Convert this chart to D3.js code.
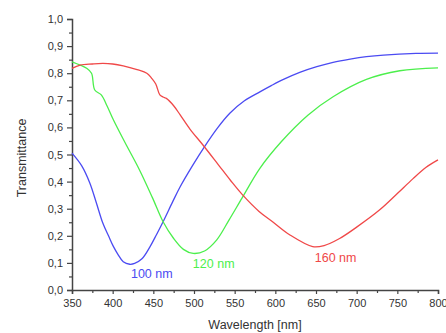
<!DOCTYPE html>
<html>
<head>
<meta charset="utf-8">
<script src="https://cdn.jsdelivr.net/npm/d3@7"></script>
<style>
  body { margin: 0; background: #fff; }
  svg { display: block; font-family: "Liberation Sans", Arial, sans-serif; }
</style>
</head>
<body>
<svg id="chart" width="446" height="333"></svg>
<script>
// 100 nm film
var wl100 = [350, 362, 372, 380, 388, 395, 401, 407, 413, 421, 427, 436, 446, 454, 462, 474, 483, 498, 513, 529, 544, 562, 581, 595, 610, 630, 651, 671, 692, 712, 733, 773, 800];
var t100 = [0.505, 0.458, 0.394, 0.321, 0.246, 0.199, 0.16, 0.129, 0.104, 0.095, 0.098, 0.115, 0.16, 0.205, 0.252, 0.327, 0.381, 0.458, 0.529, 0.598, 0.652, 0.698, 0.731, 0.754, 0.777, 0.803, 0.824, 0.84, 0.852, 0.861, 0.867, 0.873, 0.874];
// 120 nm film
var wl120 = [350, 360, 368, 374, 378, 386, 393, 401, 415, 433, 449, 462, 475, 487, 499, 513, 528, 543, 559, 581, 607, 640, 671, 712, 753, 800];
var t120 = [0.842, 0.830, 0.818, 0.80, 0.738, 0.72, 0.68, 0.627, 0.545, 0.443, 0.34, 0.252, 0.19, 0.15, 0.135, 0.144, 0.185, 0.258, 0.339, 0.449, 0.546, 0.645, 0.713, 0.777, 0.809, 0.82];
// 160 nm film
var wl160 = [350, 360, 375, 388, 400, 413, 430, 442, 448, 453, 458, 462, 466, 475, 483, 495, 511, 530, 545, 560, 580, 597, 618, 646, 660, 679, 700, 728, 750, 769, 785, 800];
var t160 = [0.818, 0.830, 0.834, 0.836, 0.834, 0.827, 0.813, 0.80, 0.781, 0.76, 0.72, 0.712, 0.707, 0.68, 0.646, 0.594, 0.535, 0.462, 0.404, 0.35, 0.29, 0.251, 0.203, 0.16, 0.164, 0.19, 0.232, 0.295, 0.356, 0.41, 0.452, 0.48];

var seriesNames = ["100 nm", "120 nm", "160 nm"];
var seriesColors = ["#4b4bf2", "#4cef4c", "#f04848"];
// label anchor points (wavelength, transmittance)
var labelWl = [422.5, 498.6, 648.5];
var labelT = [0.044, 0.081, 0.103];

var xTicks = [350, 400, 450, 500, 550, 600, 650, 700, 750, 800];
var yTicks = [0, 0.1, 0.2, 0.3, 0.4, 0.5, 0.6, 0.7, 0.8, 0.9, 1.0];

var svg = d3.select("#chart");
var mLeft = 72, mRight = 438, mTop = 19, mBottom = 290;

var x = d3.scaleLinear().domain([350, 800]).range([mLeft, mRight]);
var y = d3.scaleLinear().domain([0, 1]).range([mBottom, mTop]);

var axisColor = "#444";
var textColor = "#333";

function commaFmt(d) { return d3.format(".1f")(d).replace(".", ","); }

// minor ticks
var yMinor = d3.range(0.05, 1, 0.1);
var xMinor = d3.range(375, 800, 50);

svg.append("g").attr("transform", "translate(" + mLeft + ",0)")
    .call(d3.axisLeft(y).tickValues(yMinor).tickFormat("").tickSize(3))
    .select(".domain").remove();
svg.append("g").attr("transform", "translate(0," + mBottom + ")")
    .call(d3.axisBottom(x).tickValues(xMinor).tickFormat("").tickSize(3))
    .select(".domain").remove();

svg.append("g").attr("transform", "translate(" + mLeft + ",0)")
    .call(d3.axisLeft(y).tickValues(yTicks).tickFormat(commaFmt).tickSize(5).tickPadding(4));
svg.append("g").attr("transform", "translate(0," + mBottom + ")")
    .call(d3.axisBottom(x).tickValues(xTicks).tickSize(4).tickPadding(5));

svg.selectAll(".domain").attr("stroke", axisColor).attr("stroke-width", 1.5);
svg.selectAll(".tick line").attr("stroke", axisColor).attr("stroke-width", 1.2);
svg.selectAll(".tick text").attr("fill", textColor).style("font-size", "11px");

// axis titles
svg.append("text")
    .attr("x", (mLeft + mRight) / 2)
    .attr("y", 329)
    .attr("text-anchor", "middle")
    .attr("fill", textColor)
    .style("font-size", "12.5px")
    .text("Wavelength [nm]");

svg.append("text")
    .attr("transform", "translate(26,158) rotate(-90)")
    .attr("text-anchor", "middle")
    .attr("fill", textColor)
    .style("font-size", "12.5px")
    .text("Transmittance");

// curves
var allWl = [wl100, wl120, wl160];
var allT = [t100, t120, t160];
var line = d3.line()
    .x(function (d) { return x(d[0]); })
    .y(function (d) { return y(d[1]); })
    .curve(d3.curveCatmullRom.alpha(0.5));

for (var i = 0; i < 3; i++) {
    var pts = allWl[i].map(function (w, j) { return [w, allT[i][j]]; });
    svg.append("path")
        .datum(pts)
        .attr("fill", "none")
        .attr("stroke", seriesColors[i])
        .attr("stroke-width", 1.3)
        .attr("stroke-linejoin", "round")
        .attr("d", line);

    svg.append("text")
        .attr("x", x(labelWl[i]))
        .attr("y", y(labelT[i]))
        .attr("fill", seriesColors[i])
        .style("font-size", "12.5px")
        .text(seriesNames[i]);
}
</script>
</body>
</html>
